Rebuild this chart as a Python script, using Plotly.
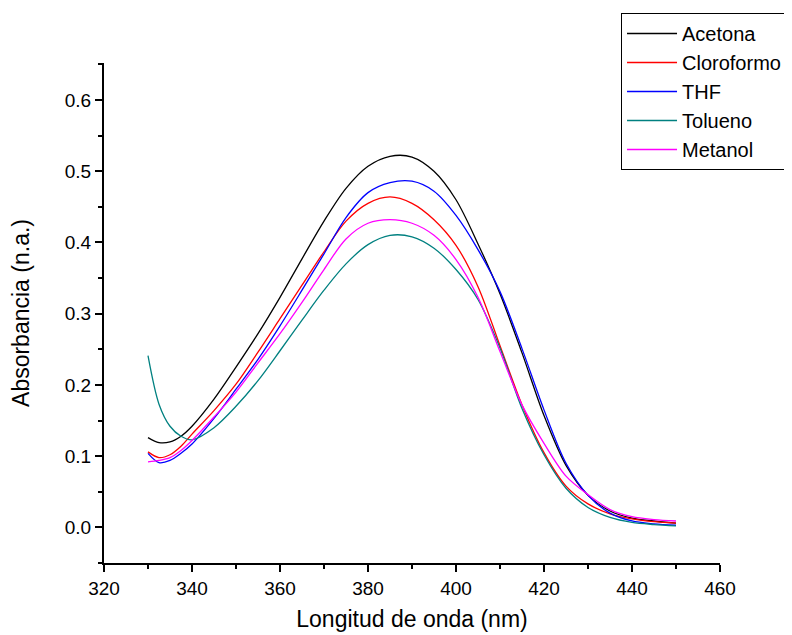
import plotly.graph_objects as go

wavelength = [330, 332.5, 335, 337.5, 340, 345, 350, 355, 360, 365, 370, 375, 380,
              385, 390, 395, 400, 405, 410, 415, 420, 425, 430, 435, 440, 445, 450]

acetona = [0.126, 0.119, 0.120, 0.128, 0.142, 0.180, 0.225, 0.272, 0.323, 0.377, 0.430,
           0.476, 0.507, 0.521, 0.520, 0.500, 0.460, 0.398, 0.328, 0.245, 0.157, 0.087,
           0.045, 0.023, 0.013, 0.009, 0.006]
cloroformo = [0.106, 0.098, 0.102, 0.114, 0.131, 0.164, 0.201, 0.246, 0.293, 0.340, 0.387,
              0.430, 0.455, 0.464, 0.455, 0.432, 0.396, 0.338, 0.255, 0.172, 0.105, 0.058,
              0.033, 0.019, 0.012, 0.008, 0.006]
thf = [0.104, 0.091, 0.094, 0.104, 0.117, 0.153, 0.194, 0.236, 0.283, 0.333, 0.384,
       0.435, 0.470, 0.484, 0.486, 0.472, 0.438, 0.390, 0.331, 0.251, 0.165, 0.090,
       0.045, 0.020, 0.009, 0.005, 0.003]
tolueno = [0.241, 0.173, 0.142, 0.128, 0.123, 0.140, 0.170, 0.206, 0.248, 0.291, 0.333,
           0.370, 0.397, 0.410, 0.408, 0.392, 0.362, 0.320, 0.252, 0.167, 0.102, 0.055,
           0.028, 0.014, 0.007, 0.004, 0.002]
metanol = [0.092, 0.094, 0.098, 0.108, 0.122, 0.155, 0.190, 0.231, 0.272, 0.316, 0.362,
           0.405, 0.427, 0.432, 0.427, 0.410, 0.376, 0.323, 0.247, 0.172, 0.118, 0.072,
           0.046, 0.025, 0.015, 0.011, 0.009]

series = [
    ("Acetona", acetona, "#000000"),
    ("Cloroformo", cloroformo, "#FF0000"),
    ("THF", thf, "#0000FF"),
    ("Tolueno", tolueno, "#008080"),
    ("Metanol", metanol, "#FF00FF"),
]

FONT = "Arial, Liberation Sans, sans-serif"

fig = go.Figure()
for name, vals, color in series:
    fig.add_trace(go.Scatter(
        x=wavelength, y=vals, name=name, mode="lines",
        line=dict(color=color, width=1.3, shape="spline", smoothing=0.9),
    ))

# page body has an 8px margin, so the figure is 8px smaller on each side
fig.update_layout(
    width=784, height=627,
    margin=dict(l=96, r=72, t=55, b=72, autoexpand=False),
    paper_bgcolor="white", plot_bgcolor="white",
    font=dict(family=FONT, color="black", size=18),
    showlegend=True,
    legend=dict(
        x=1.1088, y=1.1, xanchor="right", yanchor="top",
        bordercolor="black", borderwidth=1, bgcolor="white",
        font=dict(family=FONT, size=20, color="black"),
        tracegroupgap=0, itemwidth=50,
    ),
)

fig.update_xaxes(
    range=[320, 460], tickvals=[320, 340, 360, 380, 400, 420, 440, 460],
    showline=True, linecolor="black", linewidth=2,
    ticks="outside", ticklen=7, tickwidth=2, tickcolor="black",
    minor=dict(dtick=10, tick0=330, ticks="outside", ticklen=4, tickwidth=2, tickcolor="black"),
    showgrid=False, zeroline=False, automargin=False,
    tickfont=dict(family=FONT, size=19),
    title=dict(text="Longitud de onda (nm)", font=dict(family=FONT, size=23), standoff=13),
)
fig.update_yaxes(
    range=[-0.05, 0.652], tickvals=[0.0, 0.1, 0.2, 0.3, 0.4, 0.5, 0.6],
    ticktext=["0.0", "0.1", "0.2", "0.3", "0.4", "0.5", "0.6"],
    showline=True, linecolor="black", linewidth=2,
    ticks="outside", ticklen=7, tickwidth=2, tickcolor="black",
    minor=dict(dtick=0.1, tick0=0.05, ticks="outside", ticklen=4, tickwidth=2, tickcolor="black"),
    showgrid=False, zeroline=False, automargin=False,
    tickfont=dict(family=FONT, size=19),
    title=dict(text="Absorbancia (n.a.)", font=dict(family=FONT, size=23), standoff=34),
)

fig.write_html("out.html")
